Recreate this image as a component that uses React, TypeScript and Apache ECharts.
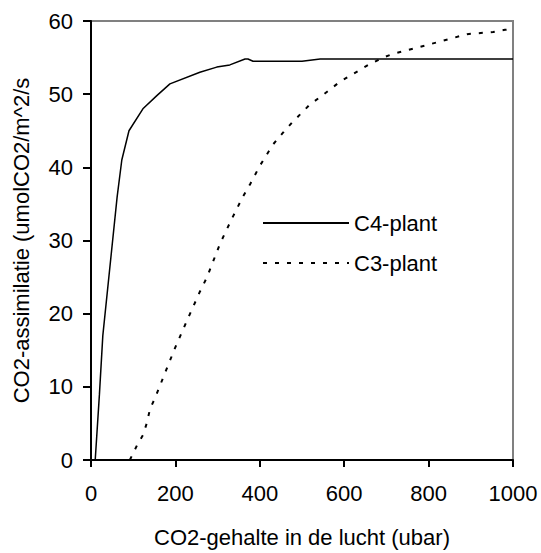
import React, { useEffect, useRef } from "react";
import * as echarts from "echarts";

const xTicks = [0, 200, 400, 600, 800, 1000];
const yTicks = [0, 10, 20, 30, 40, 50, 60];

const c4Plant: [number, number][] = [
  [10, 0], [20, 9], [28, 17], [62, 36], [73, 41], [90, 45], [123, 48],
  [156, 49.8], [187, 51.4], [258, 53], [298, 53.7], [329, 54], [365, 54.8],
  [372, 54.8], [384, 54.5], [500, 54.5], [543, 54.8], [700, 54.8],
  [800, 54.8], [1000, 54.8],
];

const c3Plant: [number, number][] = [
  [92, 0], [109, 2], [123, 3.4], [132, 5], [140, 7], [152, 8.5], [174, 11.7],
  [199, 15.3], [227, 19], [258, 23], [275, 25], [306, 29.6], [334, 33],
  [360, 36], [377, 37.7], [400, 40.2], [431, 43.1], [456, 44.8], [476, 46.1],
  [495, 47.2], [519, 48.6], [543, 49.6], [590, 51.7], [657, 54], [692, 55],
  [716, 55.5], [808, 56.9], [891, 58.2], [953, 58.5], [981, 58.8], [1000, 58.9],
];

const FONT = "Liberation Sans";
const FS = 22;

export default function App() {
  const ref = useRef<HTMLDivElement>(null);
  useEffect(() => {
    if (!ref.current) return;
    const chart = echarts.init(ref.current, undefined, { renderer: "svg" });
    chart.setOption({
      animation: false,
      textStyle: { fontFamily: FONT, color: "#000" },
      grid: {
        left: 91,
        right: 28,
        top: 21,
        bottom: 90,
        show: true,
        borderColor: "#808080",
        borderWidth: 2,
      },
      legend: {
        orient: "vertical",
        left: 257,
        top: 207,
        itemWidth: 86,
        itemHeight: 22,
        itemGap: 18,
        itemStyle: { opacity: 0 },
        textStyle: { fontFamily: FONT, fontSize: FS, color: "#000" },
        data: ["C4-plant", "C3-plant"],
      },
      xAxis: {
        type: "value",
        min: 0,
        max: 1000,
        interval: 200,
        name: "CO2-gehalte in de lucht (ubar)",
        nameLocation: "middle",
        nameGap: 66,
        nameTextStyle: { fontFamily: FONT, fontSize: FS, color: "#000" },
        axisLine: { show: true, lineStyle: { color: "#000", width: 2 } },
        axisTick: { show: true, length: 7, lineStyle: { color: "#000", width: 2 } },
        axisLabel: {
          margin: 22,
          fontFamily: FONT,
          fontSize: FS,
          color: "#000",
          formatter: (v: number) => (xTicks.includes(v) ? String(v) : ""),
        },
        splitLine: { show: false },
      },
      yAxis: {
        type: "value",
        min: 0,
        max: 60,
        interval: 10,
        name: "CO2-assimilatie (umolCO2/m^2/s",
        nameLocation: "middle",
        nameGap: 59,
        nameTextStyle: { fontFamily: FONT, fontSize: FS, color: "#000" },
        axisLine: { show: true, lineStyle: { color: "#000", width: 2 } },
        axisTick: { show: true, length: 8, lineStyle: { color: "#000", width: 2 } },
        axisLabel: {
          margin: 18,
          fontFamily: FONT,
          fontSize: FS,
          color: "#000",
          formatter: (v: number) => (yTicks.includes(v) ? String(v) : ""),
        },
        splitLine: { show: false },
      },
      series: [
        {
          name: "C4-plant",
          type: "line",
          data: c4Plant,
          showSymbol: false,
          symbol: "none",
          lineStyle: { color: "#000", width: 1.5, type: "solid" },
          itemStyle: { color: "#000" },
        },
        {
          name: "C3-plant",
          type: "line",
          data: c3Plant,
          showSymbol: false,
          symbol: "none",
          lineStyle: { color: "#000", width: 2, type: [4, 8] },
          itemStyle: { color: "#000" },
        },
      ],
    });
    return () => chart.dispose();
  }, []);
  return <div ref={ref} style={{ width: 541, height: 553, position: "absolute", left: 0, top: 0 }} />;
}
